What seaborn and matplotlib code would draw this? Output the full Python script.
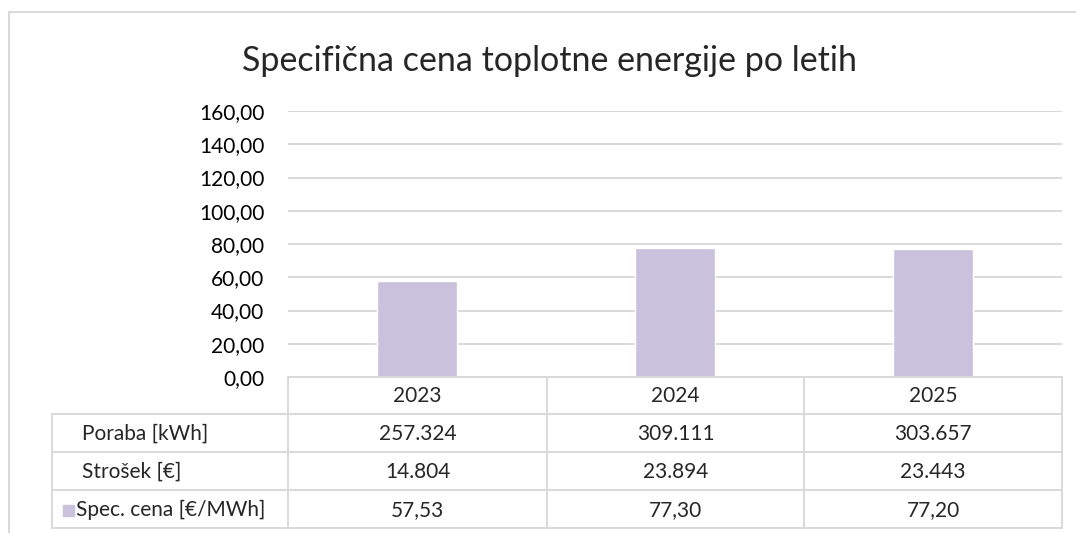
import matplotlib
matplotlib.use("Agg")
import matplotlib.pyplot as plt
from matplotlib.lines import Line2D
from matplotlib.patches import Rectangle
import pandas as pd
import seaborn as sns

# data
years = ["2023", "2024", "2025"]
poraba_kwh = [257324, 309111, 303657]
strosek_eur = [14804, 23894, 23443]
spec_cena = [57.53, 77.30, 77.20]
row_labels = ["Poraba [kWh]", "Strošek [€]", "Spec. cena [€/MWh]"]
title = "Specifična cena toplotne energije po letih"

BAR = "#CAC1DC"
GRID = "#D9D9D9"
FONT = ["Lato", "DejaVu Sans"]

sns.set_style("white")
plt.rcParams["font.family"] = FONT

df = pd.DataFrame({"Leto": years, "Spec": spec_cena})


def thousands(v):
    return f"{v:,}".replace(",", ".")


def dec_comma(v):
    return f"{v:.2f}".replace(".", ",")


W, H = 1076, 533
fig = plt.figure(figsize=(W / 100, H / 100), dpi=100)

# plot area in pixels
L, R, T, B = 288, 1062, 111, 377
ax = fig.add_axes([L / W, 1 - B / H, (R - L) / W, (B - T) / H])

sns.barplot(data=df, x="Leto", y="Spec", color=BAR, width=0.31,
            saturation=1, ax=ax)
ax.set_ylim(0, 160)
ax.set_xlim(-0.5, 2.5)
ax.set_yticks(range(0, 161, 20))
ax.set_yticklabels([dec_comma(v) for v in range(0, 161, 20)], fontsize=15)
ax.tick_params(axis="y", length=0, pad=17, colors="#000000")
ax.set_xticks([])
ax.set_xlabel("")
ax.set_ylabel("")
ax.grid(axis="y", color=GRID, linewidth=1.4)
ax.set_axisbelow(True)
for s in ax.spines.values():
    s.set_visible(False)

fig.text(550 / W, 1 - 61 / H, title, fontsize=24.5, ha="center", va="center")

# data table below the plot, drawn in pixel positions of the figure
def px(x, y):
    return x / W, 1 - y / H


rows_y = [377, 414, 452, 490, 528]
cols_x = [288, 547, 804, 1062]
tab_left = 52


def hline(y, x0, x1):
    (a, b), (c, d) = px(x0, y), px(x1, y)
    fig.add_artist(Line2D([a, c], [b, d], color=GRID, linewidth=1.4))


def vline(x, y0, y1):
    (a, b), (c, d) = px(x, y0), px(x, y1)
    fig.add_artist(Line2D([a, c], [b, d], color=GRID, linewidth=1.4))


hline(rows_y[0], cols_x[0], cols_x[-1])
for y in rows_y[1:]:
    hline(y, tab_left, cols_x[-1])
for x in cols_x:
    vline(x, rows_y[0], rows_y[-1])
vline(tab_left, rows_y[1], rows_y[-1])

# chart border
fig.add_artist(Line2D([9 / W, 1.0], [1 - 12 / H] * 2, color=GRID, linewidth=1.4))
fig.add_artist(Line2D([9 / W] * 2, [1 - 12 / H, 0], color=GRID, linewidth=1.4))

centers = [(cols_x[i] + cols_x[i + 1]) / 2 for i in range(3)]
row_vals = [[thousands(v) for v in poraba_kwh],
            [thousands(v) for v in strosek_eur],
            [dec_comma(v) for v in spec_cena]]

for i, yr in enumerate(years):
    x, y = px(centers[i], (rows_y[0] + rows_y[1]) / 2 + 1)
    fig.text(x, y, yr, fontsize=15, ha="center", va="center")

for r in range(3):
    yc = (rows_y[r + 1] + rows_y[r + 2]) / 2 + 1
    lx = 82 if r < 2 else 76
    x, y = px(lx, yc)
    fig.text(x, y, row_labels[r], fontsize=15, ha="left", va="center")
    for i in range(3):
        x, y = px(centers[i], yc)
        fig.text(x, y, row_vals[r][i], fontsize=15, ha="center", va="center")

# legend key in front of the series row
kx, ky = px(63, 516)
fig.add_artist(Rectangle((kx, ky), 11 / W, 11 / H, color=BAR,
                         transform=fig.transFigure))

fig.savefig("out.png", dpi=100)
